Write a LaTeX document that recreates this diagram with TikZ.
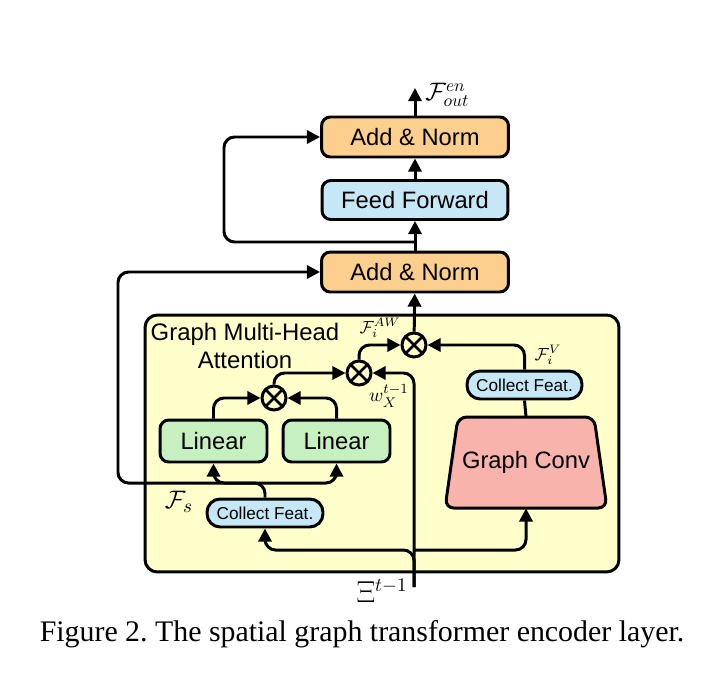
\documentclass[tikz,border=0pt]{standalone}
\usepackage{amsmath,amssymb}
\usepackage{fontspec}
\setmainfont{Liberation Sans}
\newfontfamily\capfont{Liberation Serif}
\usetikzlibrary{arrows.meta}

\definecolor{normfill}{HTML}{FDCF8E}
\definecolor{fffill}{HTML}{C6E8F6}
\definecolor{linfill}{HTML}{C6F0C0}
\definecolor{attfill}{HTML}{FFFFCC}
\definecolor{convfill}{HTML}{F8B3AC}

\begin{document}
\frenchspacing
\begin{tikzpicture}[x=0.02cm,y=-0.02cm,>={Triangle[length=7.5pt,width=7.5pt]},
  every node/.style={inner sep=0pt},
  block/.style={draw,line width=1.7pt,rounded corners=5pt,font=\fontsize{13.5}{16}\selectfont},
  normbox/.style={block,fill=normfill,minimum width=3.74cm,minimum height=0.8cm},
  ffbox/.style={block,fill=fffill,minimum width=3.72cm,minimum height=0.78cm},
  linbox/.style={block,fill=linfill,minimum width=2.14cm,minimum height=0.84cm},
  collbox/.style={block,fill=fffill,rounded corners=7.5pt,minimum width=2.32cm,minimum height=0.56cm,font=\fontsize{9.8}{12}\selectfont},
  convbox/.style={font=\fontsize{13.5}{16}\selectfont,minimum width=3.24cm,minimum height=1.82cm},
  attbox/.style={draw,line width=1.7pt,rounded corners=7pt,fill=attfill,minimum width=9.48cm,minimum height=5.14cm},
  otimes/.style={draw,circle,line width=1.7pt,minimum size=0.48cm,
    path picture={\draw[line width=1.5pt] (path picture bounding box.north west) -- (path picture bounding box.south east)
      (path picture bounding box.north east) -- (path picture bounding box.south west);}},
  arr/.style={->,line width=1.7pt,rounded corners=6pt},
  line/.style={line width=1.7pt}
]
\useasboundingbox (0,0) rectangle (719,679);

% Attention block in the background
\node[attbox] (gmha) at (382,443.5) {};
\node[align=center,font=\fontsize{13.6}{16}\selectfont] (title) at (245,346) {Graph Multi-Head\\Attention};

% Encoder column
\node[normbox] (norm2) at (415,137) {Add \& Norm};
\node[ffbox] (ff) at (415,200) {Feed Forward};
\node[normbox] (norm1) at (415,272) {Add \& Norm};

% Inside the attention block
\node[linbox] (lin1) at (213.5,441) {Linear};
\node[linbox] (lin2) at (336.5,441) {Linear};
\node[collbox] (cfl) at (265,513) {Collect Feat.};
% trapezoid of the graph convolution
\draw[line,fill=convfill,rounded corners=5pt] (445,508) -- (458,417) -- (594,417) -- (607,508) -- cycle;
\node[convbox] (gconv) at (526,462.5) {Graph Conv};
\node[collbox,minimum width=2.3cm] (cfr) at (524.5,385) {Collect Feat.};
\node[otimes] (mul1) at (274,398) {};
\node[otimes] (mul2) at (359,373) {};
\node[otimes] (mul3) at (414,345) {};

% Free ends
\coordinate (out) at (415,88);
\coordinate (skip1) at (415,242);
\coordinate (fs) at (265,483);
\coordinate (xi) at (414,587);
\coordinate (split) at (414,550);

% Labels
\node[anchor=west,font=\fontsize{14}{16}\selectfont] (foutlab) at (425,95) {$\mathcal{F}^{en}_{out}$};
\node[font=\fontsize{15.5}{18}\selectfont] (fslab) at (179,502) {$\mathcal{F}_s$};
\node[font=\fontsize{10}{12}\selectfont] (faw) at (380,328) {$\mathcal{F}^{AW}_i$};
\node[font=\fontsize{10}{12}\selectfont] (fv) at (548,355) {$\mathcal{F}^{V}_i$};
\node[font=\fontsize{11}{13}\selectfont] (wx) at (389,396) {$w^{t-1}_X$};
\node[anchor=east,font=\fontsize{16}{19}\selectfont] (xilab) at (408,591) {$\Xi^{t-1}$};
\node[font=\capfont\fontsize{17}{20}\selectfont] (cap) at (362,634) {Figure 2. The spatial graph transformer encoder layer.};

% Connectors of the encoder column
\draw[arr] (norm2) -- (out);
\draw[arr] (ff) -- (norm2);
\draw[arr] (norm1) -- (ff);
\draw[arr] (skip1) -- ++(-191,0) |- (norm2.west);
\draw[arr] (mul3) -- (norm1);

% Connectors of the attention block
\draw[arr] (cfl.north) -- (fs) -| (lin1.south);
\draw[arr] (fs) -| (lin2.south);
\draw[arr] (fs) -- ++(-147,0) |- (norm1.west);
\draw[arr] (lin1.north) |- (mul1.west);
\draw[arr] (lin2.north) |- (mul1.east);
\draw[arr] (mul1.north) |- (mul2.west);
\draw[arr] (mul2.north) |- (mul3.west);
\draw[arr] (xi) |- (mul2.east);
\draw[arr] (xi) -- (split) -| (cfl.south);
\draw[arr] (split) -| (gconv.south);
\draw[line] (gconv.north) -- (cfr.south);
\draw[arr] (cfr.north) |- (mul3.east);
\end{tikzpicture}
\end{document}
